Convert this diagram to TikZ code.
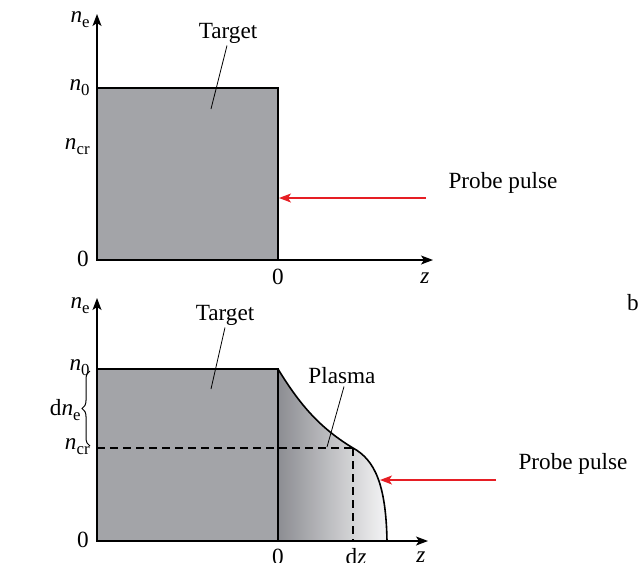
\documentclass[tikz,border=0pt]{standalone}
\usepackage{fontspec}
\setmainfont{Liberation Serif}
\usetikzlibrary{arrows.meta,decorations.pathreplacing}
\definecolor{tgray}{RGB}{163,164,168}
\definecolor{pdark}{RGB}{140,141,146}
\definecolor{plight}{RGB}{245,245,246}
\definecolor{probered}{RGB}{230,30,36}
\newcommand\nsb[2]{\textit{#1}\raisebox{-0.45ex}{\fontsize{8.4}{9}\selectfont #2}}
\tikzset{
  ax/.style={line width=0.6pt,-{Stealth[length=6pt,width=4.5pt,inset=1.5pt]}},
  outl/.style={line width=0.8pt},
  lead/.style={line width=0.4pt},
  probe/.style={probered,line width=0.6pt,-{Stealth[length=6pt,width=4.5pt,inset=1.5pt]}},
  lbl/.style={inner sep=1pt,font=\fontsize{11.6}{13}\selectfont},
  dsh/.style={line width=0.6pt,dash pattern=on 4pt off 2.5pt},
}
\begin{document}
\begin{tikzpicture}[x=0.5pt,y=-0.5pt]
\useasboundingbox (0,0) rectangle (644,563);
% ---------- top panel ----------
\coordinate (o1) at (97,260);
\coordinate (ytop1) at (97,14);
\coordinate (xend1) at (433,260);
\fill[tgray] (97,88) rectangle (278,260);
\draw[outl] (97,88) rectangle (278,260);
\draw[ax] (o1) -- (ytop1);
\draw[ax] (o1) -- (xend1);
\node[lbl,anchor=east] (ne1) at (92,20) {\nsb{n}{e}};
\node[lbl,anchor=east] (n01) at (92,88) {\nsb{n}{0}};
\node[lbl,anchor=east] (ncr1) at (92,147) {\nsb{n}{cr}};
\node[lbl,anchor=east] (zero1) at (91,259) {0};
\node[lbl] (zz1) at (278,277) {0};
\node[lbl] (z1) at (425,278) {\textit{z}};
\node[lbl] (tgt1) at (228,33) {Target};
\coordinate (tgtp1) at (211,109);
\draw[lead] (tgt1.south) ++(-1,0) -- (tgtp1);
\coordinate (pstart1) at (426,198);
\coordinate (ptip1) at (279,198);
\draw[probe] (pstart1) -- (ptip1);
\node[lbl] (pp1) at (503,183) {Probe pulse};
\node[lbl] (b) at (633,303) {b};
% ---------- bottom panel ----------
\coordinate (o2) at (97,541);
\coordinate (ytop2) at (97,298);
\coordinate (xend2) at (428,541);
\fill[tgray] (97,369) rectangle (278,541);
\shade[left color=pdark,right color=plight]
  (278,369) .. controls (300,405) and (320,428) .. (353,448)
  .. controls (375,460) and (386,485) .. (387,541) -- (278,541) -- cycle;
\draw[dsh] (97,448) -- (353,448);
\draw[dsh] (353,448) -- (353,541);
\draw[outl] (97,369) rectangle (278,541);
\draw[outl] (278,369) .. controls (300,405) and (320,428) .. (353,448)
  .. controls (375,460) and (386,485) .. (387,541);
\draw[ax] (o2) -- (ytop2);
\draw[ax] (o2) -- (xend2);
\node[lbl,anchor=east] (ne2) at (92,306) {\nsb{n}{e}};
\node[lbl,anchor=east] (n02) at (92,368) {\nsb{n}{0}};
\node[lbl,anchor=east] (ncr2) at (92,447) {\nsb{n}{cr}};
\node[lbl,anchor=east] (zero2) at (91,540) {0};
\draw[line width=0.5pt,decorate,decoration={brace,amplitude=4pt}] (90,446) -- (90,371);
\node[lbl,anchor=east] (dne) at (83,410) {d\nsb{n}{e}};
\node[lbl] (zz2) at (278,557) {0};
\node[lbl] (dz) at (356,557) {d\textit{z}};
\node[lbl] (z2) at (421,557) {\textit{z}};
\node[lbl] (tgt2) at (225,315) {Target};
\coordinate (tgtp2) at (211,389);
\draw[lead] (tgt2.south) -- (tgtp2);
\node[lbl] (pl) at (342,376) {Plasma};
\coordinate (plp) at (327,447);
\draw[lead] (pl.south) ++(2,0) -- (plp);
\coordinate (pstart2) at (496,480);
\coordinate (ptip2) at (380,480);
\draw[probe] (pstart2) -- (ptip2);
\node[lbl] (pp2) at (573,464) {Probe pulse};
\end{tikzpicture}
\end{document}
